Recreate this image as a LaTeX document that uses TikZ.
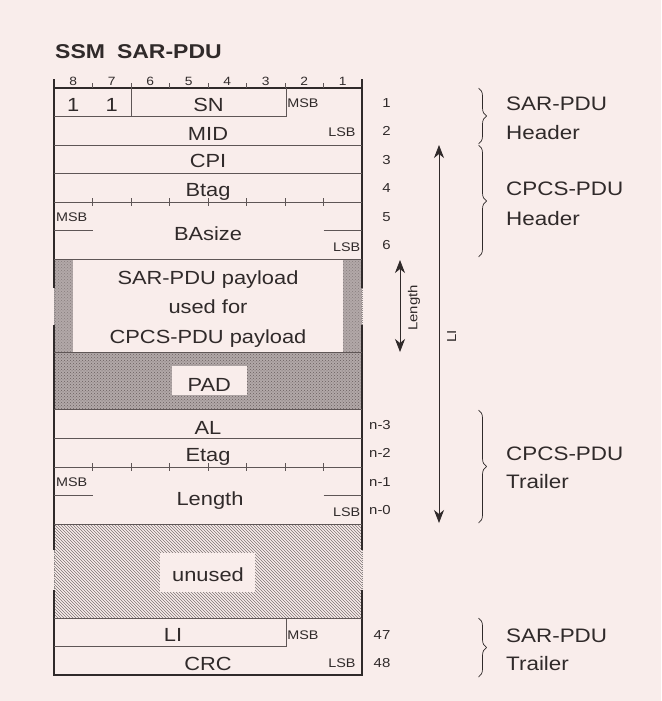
\documentclass[tikz,border=0pt]{standalone}
\usepackage{fontspec}
\setmainfont{Liberation Sans}[FakeStretch=1.15]
\usetikzlibrary{patterns,decorations.pathreplacing,arrows.meta}
\definecolor{bg}{RGB}{249,237,235}
\definecolor{ink}{RGB}{48,42,42}
\definecolor{rulec}{RGB}{95,86,86}
\definecolor{barfill}{RGB}{178,168,168}
\definecolor{bardot}{RGB}{135,125,125}
\definecolor{padfill}{RGB}{178,168,168}
\definecolor{paddot}{RGB}{105,96,96}
\definecolor{hatchc}{RGB}{125,115,115}
\begin{document}
\begin{tikzpicture}[x=1pt,y=-1pt,
  frame/.style={draw=ink,line width=1.4pt},
  brk/.style={draw=rulec!70,line width=1pt,densely dotted},
  rowline/.style={draw=rulec,line width=0.6pt},
  lbl/.style={anchor=base,inner sep=0pt,text=ink,font=\fontsize{19}{22}\selectfont},
  small/.style={anchor=base,inner sep=0pt,text=ink,font=\fontsize{12.5}{14}\selectfont},
  rownum/.style={anchor=base,inner sep=0pt,text=ink,font=\fontsize{13}{15}\selectfont},
  bitnum/.style={anchor=base,inner sep=0pt,text=ink,font=\fontsize{12}{14}\selectfont},
  side/.style={anchor=base west,inner sep=0pt,text=ink,font=\fontsize{19.5}{23}\selectfont},
  brc/.style={draw=ink,line width=0.7pt,decorate,decoration={brace,amplitude=8pt}},
  arr/.style={draw=ink,line width=0.8pt,{Stealth[length=13pt,width=10pt,inset=4pt]}-{Stealth[length=13pt,width=10pt,inset=4pt]}},
  vlbl/.style={inner sep=0pt,text=ink,rotate=90,font=\fontsize{13}{15}\selectfont}]
\fill[bg] (0,0) rectangle (661,701);
\useasboundingbox (0,0) rectangle (661,701);

% ---- fills ----
\fill[barfill] (54,259) rectangle (72.7,352);
\fill[barfill] (342.7,259) rectangle (362,352);
\fill[pattern=crosshatch dots,pattern color=bardot] (54,259) rectangle (72.7,352);
\fill[pattern=crosshatch dots,pattern color=bardot] (342.7,259) rectangle (362,352);
\fill[padfill] (54,352) rectangle (362,409);
\fill[pattern=crosshatch dots,pattern color=paddot] (54,352) rectangle (362,409);
\fill[bg] (171.7,365.7) rectangle (246.7,395);
\fill[pattern=north west lines,pattern color=hatchc] (54,524) rectangle (362,618);
\fill[bg] (160,553) rectangle (255,592);

% ---- title ----
\node[anchor=base west,inner sep=0pt,text=ink,font=\bfseries\fontsize{20}{23}\selectfont] (title) at (55,58.3) {SSM\hspace{12pt}SAR-PDU};

% ---- frame ----
\draw[frame] (54,79) -- (54,288);
\draw[brk] (54,288) -- (54,325);
\draw[frame] (54,325) -- (54,550);
\draw[brk] (54,550) -- (54,590);
\draw[frame] (54,590) -- (54,675.5);
\draw[frame] (362,79) -- (362,288);
\draw[brk] (362,288) -- (362,325);
\draw[frame] (362,325) -- (362,550);
\draw[brk] (362,550) -- (362,590);
\draw[frame] (362,590) -- (362,675.5);
\draw[frame] (54,88) -- (362,88);
\draw[frame] (54,675) -- (362,675);

% ruler
\foreach \i in {1,...,7} {
  \draw[rowline] ({54+\i*38.5},83) -- ({54+\i*38.5},88);
  \draw[rowline] ({54+\i*38.5},198) -- ({54+\i*38.5},205.5);
  \draw[rowline] ({54+\i*38.5},463) -- ({54+\i*38.5},470.5);
}
\foreach \i [evaluate=\i as \b using int(8-\i)] in {0,...,7} {
  \node[bitnum] (bit\b) at ({54+(\i+0.5)*38.5},85) {\b};
}

% row lines
\draw[rowline] (54,116.5) -- (286,116.5);
\draw[rowline] (286,88) -- (286,116.5);
\draw[rowline] (131,88) -- (131,116.5);
\draw[rowline] (54,145) -- (362,145);
\draw[rowline] (54,173.5) -- (362,173.5);
\draw[rowline] (54,202) -- (362,202);
\draw[rowline] (54,230.5) -- (92.5,230.5);
\draw[rowline] (323.5,230.5) -- (362,230.5);
\draw[rowline,line width=0.9pt] (54,259) -- (362,259);
\draw[rowline] (54,352) -- (362,352);
\draw[rowline] (54,409) -- (362,409);
\draw[rowline] (54,438) -- (362,438);
\draw[rowline] (54,467) -- (362,467);
\draw[rowline] (54,495.5) -- (92.5,495.5);
\draw[rowline] (323.5,495.5) -- (362,495.5);
\draw[rowline] (54,524) -- (362,524);
\draw[rowline] (54,618) -- (362,618);
\draw[rowline] (54,646.5) -- (286,646.5);
\draw[rowline] (286,618) -- (286,646.5);

% ---- field labels ----
\node[lbl] (one8) at (73.3,111.5) {1};
\node[lbl] (one7) at (111.8,111.5) {1};
\node[lbl] (sn) at (208.5,111.5) {SN};
\node[small] (snmsb) at (303,107.2) {MSB};
\node[lbl] (mid) at (208,140) {MID};
\node[small] (midlsb) at (342,136.2) {LSB};
\node[lbl] (cpi) at (208,167.8) {CPI};
\node[lbl] (btag) at (208,196.7) {Btag};
\node[small] (bamsb) at (71.7,221.5) {MSB};
\node[lbl] (basize) at (208,240) {BAsize};
\node[small] (balsb) at (346.7,251.5) {LSB};
\node[inner sep=0pt,text=ink,align=center,font=\fontsize{19}{29.5}\selectfont] (payload) at (208,309) {SAR-PDU payload\\used for\\CPCS-PDU payload};
\node[lbl] (pad) at (209.2,391.7) {PAD};
\node[lbl] (al) at (208,434.5) {AL};
\node[lbl] (etag) at (208,461.5) {Etag};
\node[small] (lenmsb) at (71.7,486.2) {MSB};
\node[lbl] (length) at (210,505) {Length};
\node[small] (lenlsb) at (346.7,516.2) {LSB};
\node[lbl] (unused) at (208,581.7) {unused};
\node[lbl] (li) at (173,641.7) {LI};
\node[small] (limsb) at (303,639.5) {MSB};
\node[lbl] (crc) at (208,670) {CRC};
\node[small] (crclsb) at (342,667.5) {LSB};

% ---- row numbers ----
\node[rownum] (r1) at (386.5,107) {1};
\node[rownum] (r2) at (386.5,135.5) {2};
\node[rownum] (r3) at (386.5,164) {3};
\node[rownum] (r4) at (386.5,192.5) {4};
\node[rownum] (r5) at (386.5,221.5) {5};
\node[rownum] (r6) at (386.5,249.8) {6};
\node[rownum] (rn3) at (380,429.7) {n-3};
\node[rownum] (rn2) at (380,457.7) {n-2};
\node[rownum] (rn1) at (380,486.4) {n-1};
\node[rownum] (rn0) at (380,514.7) {n-0};
\node[rownum] (r47) at (382,639.7) {47};
\node[rownum] (r48) at (382,667.7) {48};

% ---- arrows ----
\coordinate (lenT) at (400,260);
\coordinate (lenB) at (400,352);
\draw[arr] (lenT) -- (lenB);
\node[vlbl] (lenlbl) at (414,308) {Length};
\coordinate (liT) at (439,145);
\coordinate (liB) at (439,523);
\draw[arr] (liT) -- (liB);
\node[vlbl] (lilbl) at (451.7,336.7) {LI};

% ---- braces ----
\coordinate (b1t) at (478.5,88);  \coordinate (b1b) at (478.5,144);
\coordinate (b2t) at (478.5,145); \coordinate (b2b) at (478.5,257);
\coordinate (b3t) at (478.5,410); \coordinate (b3b) at (478.5,523);
\coordinate (b4t) at (478.5,618); \coordinate (b4b) at (478.5,677);
\draw[brc] (b1t) -- (b1b);
\draw[brc] (b2t) -- (b2b);
\draw[brc] (b3t) -- (b3b);
\draw[brc] (b4t) -- (b4b);
\node[side] (h1a) at (506,110) {SAR-PDU};
\node[side] (h1b) at (506,139) {Header};
\node[side] (h2a) at (506,195) {CPCS-PDU};
\node[side] (h2b) at (506,225) {Header};
\node[side] (t1a) at (506,460) {CPCS-PDU};
\node[side] (t1b) at (506,488.7) {Trailer};
\node[side] (t2a) at (506,642) {SAR-PDU};
\node[side] (t2b) at (506,670) {Trailer};
\end{tikzpicture}
\end{document}
